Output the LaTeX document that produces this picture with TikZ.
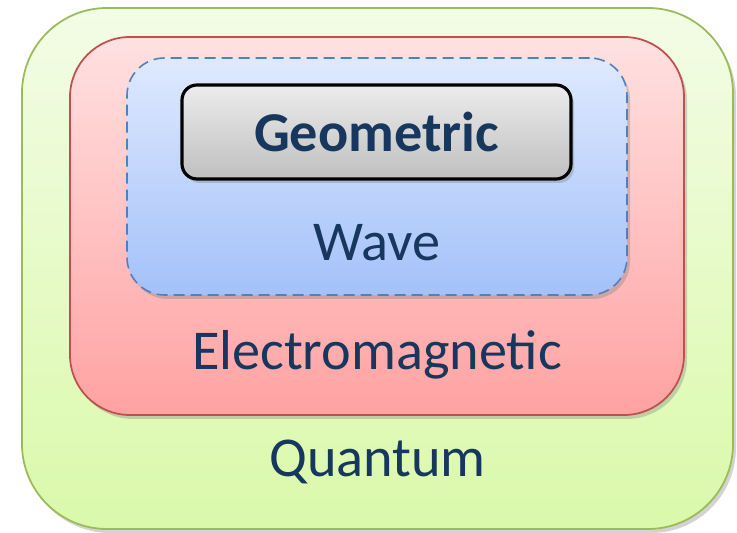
\documentclass[tikz,border=0pt]{standalone}
\usepackage{fontspec}
\setmainfont{Carlito}
\usepackage{tikz}
\usetikzlibrary{positioning, shadows}

\definecolor{labelblue}{HTML}{17375E}
\definecolor{qborder}{HTML}{9BBB59}
\definecolor{qtop}{HTML}{F3FCE6}
\definecolor{qbottom}{HTML}{DAF9AA}
\definecolor{emborder}{HTML}{C0504D}
\definecolor{emtop}{HTML}{FFE1E1}
\definecolor{embottom}{HTML}{FFA2A2}
\definecolor{waveborder}{HTML}{4F81BD}
\definecolor{wavetop}{HTML}{DFE9FE}
\definecolor{wavebottom}{HTML}{A3C1F9}

\begin{document}
\begin{tikzpicture}[
        % all boxes are nested, sizes taken from the layout
        every node/.style={font=\fontsize{32}{38}\selectfont, text=labelblue},
        level/.style={draw, line width=1pt, inner sep=0pt,
                      drop shadow={opacity=0.35, shadow xshift=0.6mm, shadow yshift=-0.8mm}},
        quantum/.style={level, draw=qborder, rounded corners=1.7cm,
                        top color=qtop, bottom color=qbottom,
                        minimum width=14.22cm, minimum height=10.42cm},
        electro/.style={level, draw=emborder, rounded corners=1.2cm,
                        top color=emtop, bottom color=embottom,
                        minimum width=12.28cm, minimum height=7.56cm},
        wave/.style={level, draw=waveborder, dash pattern=on 2.2mm off 1.2mm, line width=0.9pt,
                     rounded corners=0.75cm,
                     top color=wavetop, bottom color=wavebottom,
                     minimum width=10cm, minimum height=4.74cm},
        geobox/.style={level, draw=black, line width=1.8pt, rounded corners=0.3cm,
                       top color=gray!15, bottom color=gray!50,
                       minimum width=7.78cm, minimum height=1.88cm}
    ]
    \useasboundingbox (0,0) rectangle (14.74,10.66);

    % --- Boxes ---
    \node[quantum] (Q) at (7.55,5.29) {};
    \node[electro] (EM) at (7.54,6.14) {};
    \node[wave] (W) at (7.54,7.13) {};
    \node[geobox] (G) at (7.53,8.02) {\textbf{Geometric}};

    % --- Labels ---
    \node (Wlabel) at (7.54,5.80) {Wave};
    \node (EMlabel) at (7.54,3.56) {Electromagnetic};
    \node (Qlabel) at (7.55,1.42) {Quantum};

\end{tikzpicture}
\end{document}
